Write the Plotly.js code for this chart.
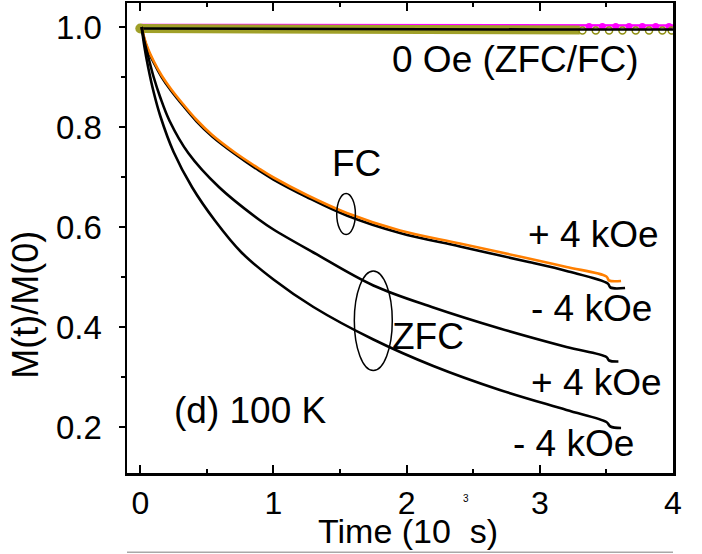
<!DOCTYPE html>
<html>
<head>
<meta charset="utf-8">
<script src="https://cdn.plot.ly/plotly-3.0.1.min.js"></script>
<style>html,body{margin:0;padding:0;background:#fff;}#chart{width:702px;height:554px;}</style>
</head>
<body>
<div id="chart"></div>
<script>
// ---- data ----
// FC, +4 kOe (orange)
const fcPlusX = [0.01, 0.03, 0.06, 0.1, 0.16, 0.23, 0.32, 0.42, 0.54, 0.71, 0.89, 1.0, 1.25, 1.55, 1.95, 2.4, 2.9, 3.2, 3.5, 3.52, 3.61];
const fcPlusY = [1.0, 0.978, 0.955, 0.932, 0.903, 0.876, 0.846, 0.815, 0.784, 0.749, 0.717, 0.699, 0.664, 0.628, 0.593, 0.567, 0.538, 0.520, 0.501, 0.493, 0.492];
// FC, -4 kOe (black)
const fcMinusX = [0.01, 0.03, 0.06, 0.1, 0.16, 0.23, 0.32, 0.42, 0.54, 0.71, 0.89, 1.0, 1.25, 1.55, 1.95, 2.4, 2.9, 3.2, 3.51, 3.53, 3.64];
const fcMinusY = [1.0, 0.976, 0.952, 0.929, 0.900, 0.873, 0.843, 0.812, 0.781, 0.746, 0.713, 0.695, 0.660, 0.623, 0.588, 0.561, 0.531, 0.512, 0.487, 0.479, 0.478];
// ZFC, +4 kOe (black)
const zfcPlusX = [0.01, 0.03, 0.06, 0.1, 0.15, 0.22, 0.36, 0.59, 0.89, 1.0, 1.3, 1.75, 2.2, 2.7, 3.2, 3.5, 3.52, 3.59];
const zfcPlusY = [1.0, 0.972, 0.94, 0.90, 0.859, 0.812, 0.748, 0.68, 0.615, 0.595, 0.549, 0.483, 0.439, 0.397, 0.36, 0.34, 0.333, 0.331];
// ZFC, -4 kOe (black)
const zfcMinusX = [0.01, 0.03, 0.06, 0.1, 0.15, 0.25, 0.39, 0.56, 0.76, 1.0, 1.3, 1.75, 2.2, 2.7, 3.2, 3.5, 3.53, 3.61];
const zfcMinusY = [1.0, 0.962, 0.918, 0.870, 0.822, 0.750, 0.679, 0.613, 0.549, 0.495, 0.44, 0.375, 0.322, 0.274, 0.234, 0.21, 0.201, 0.198];
// 0 Oe curves
const zeroMagX = [0.01, 1.0, 2.0, 3.0, 4.0];
const zeroMagY = [1.004, 1.004, 1.004, 1.003, 1.003];
const zeroMagPtsX = [3.37, 3.47, 3.57, 3.67, 3.77, 3.87, 3.97];
const zeroMagPtsY = [1.001, 1.001, 1.001, 1.001, 1.001, 1.001, 1.001];
const zeroOliveX = [0.0, 1.0, 2.0, 3.0, 3.3];
const zeroOliveY = [0.997, 0.996, 0.995, 0.994, 0.994];
const zeroOlivePtsX = [3.32, 3.42, 3.52, 3.62, 3.72, 3.82, 3.92, 3.99];
const zeroOlivePtsY = [0.993, 0.993, 0.993, 0.993, 0.993, 0.993, 0.993, 0.993];
const zeroBlackX = [0.01, 1.0, 2.0, 3.0, 4.0];
const zeroBlackY = [0.997, 0.996, 0.995, 0.995, 0.995];
// axis ticks
const xTicks = [0, 1, 2, 3, 4];
const yTicks = [0.2, 0.4, 0.6, 0.8, 1.0];
const yTickText = ['0.2', '0.4', '0.6', '0.8', '1.0'];

const FONT = 'Liberation Sans, Arial, sans-serif';
const lw = 2.6;
const sp = {shape: 'spline', smoothing: 1};

const traces = [
  {x: zeroMagX, y: zeroMagY, mode: 'lines', line: {color: '#ff00ff', width: 2.5}},
  {x: zeroMagPtsX, y: zeroMagPtsY, mode: 'markers', marker: {color: '#ff00ff', size: 7, symbol: 'circle'}},
  {x: zeroOliveX, y: zeroOliveY, mode: 'lines', line: {color: '#a0a028', width: 9}},
  {x: [zeroOliveX[0]], y: [zeroOliveY[0]], mode: 'markers', marker: {color: '#a0a028', size: 10}},
  {x: zeroOlivePtsX, y: zeroOlivePtsY, mode: 'markers', marker: {color: 'rgba(0,0,0,0)', size: 7, symbol: 'circle', line: {color: '#8f8f10', width: 1.5}}},
  {x: zeroBlackX, y: zeroBlackY, mode: 'lines', line: {color: '#000', width: lw}},
  {x: fcMinusX, y: fcMinusY, mode: 'lines', line: Object.assign({color: '#000', width: lw}, sp)},
  {x: fcPlusX, y: fcPlusY, mode: 'lines', line: Object.assign({color: '#ff7f00', width: lw}, sp)},
  {x: zfcPlusX, y: zfcPlusY, mode: 'lines', line: Object.assign({color: '#000', width: lw}, sp)},
  {x: zfcMinusX, y: zfcMinusY, mode: 'lines', line: Object.assign({color: '#000', width: lw}, sp)}
];

const lab = (text, x, y, size) => ({text, x, y, xref: 'x', yref: 'y', showarrow: false,
  xanchor: 'center', yanchor: 'middle', font: {family: FONT, size: size || 37, color: '#000'}});

const layout = {
  width: 702, height: 554,
  margin: {l: 127, r: 29, t: 3, b: 81},
  paper_bgcolor: '#fff', plot_bgcolor: '#fff',
  showlegend: false,
  font: {family: FONT, color: '#000'},
  xaxis: {
    range: [-0.1, 4.0], tickvals: xTicks, ticktext: xTicks.map(String),
    ticks: 'inside', ticklen: 8, tickwidth: 2, tickcolor: '#000',
    minor: {dtick: 0.5, tick0: 0, ticks: 'inside', ticklen: 4, tickwidth: 2, tickcolor: '#000'},
    showline: true, linecolor: '#000', linewidth: 2.5, mirror: 'ticks',
    showgrid: false, zeroline: false,
    tickfont: {family: FONT, size: 32, color: '#000'}, ticklabelstandoff: 0
  },
  yaxis: {
    range: [0.108, 1.048], tickvals: yTicks, ticktext: yTickText,
    ticks: 'outside', ticklen: 6, tickwidth: 2, tickcolor: '#000',
    minor: {dtick: 0.1, tick0: 0, ticks: 'outside', ticklen: 4, tickwidth: 2, tickcolor: '#000'},
    showline: true, linecolor: '#000', linewidth: 2.5, mirror: true,
    showgrid: false, zeroline: false,
    tickfont: {family: FONT, size: 33, color: '#000'}, ticklabelstandoff: 10
  },
  shapes: [
    {type: 'circle', xref: 'x', yref: 'y', x0: 1.475, x1: 1.615, y0: 0.585, y1: 0.667, line: {color: '#000', width: 1.5}},
    {type: 'circle', xref: 'x', yref: 'y', x0: 1.607, x1: 1.892, y0: 0.313, y1: 0.512, line: {color: '#000', width: 1.5}},
    {type: 'line', xref: 'paper', yref: 'paper', x0: 0, x1: 1, y0: -0.1687, y1: -0.1687, line: {color: '#a8a8a8', width: 1.5}}
  ],
  annotations: [
    lab('0 Oe (ZFC/FC)', 2.82, 0.935),
    lab('FC', 1.624, 0.727),
    lab('ZFC', 2.157, 0.382),
    lab('+ 4 kOe', 3.40, 0.585),
    lab('- 4 kOe', 3.388, 0.438),
    lab('+ 4 kOe', 3.425, 0.29),
    lab('- 4 kOe', 3.25, 0.167),
    lab('(d) 100 K', 0.825, 0.233),
    {text: 'M(t)/M(0)', xref: 'paper', yref: 'paper', x: -0.186, y: 0.359, textangle: -90,
     showarrow: false, xanchor: 'center', yanchor: 'middle', font: {family: FONT, size: 36, color: '#000'}},
    {text: 'Time (10\u00a0\u00a0s)', xref: 'paper', yref: 'paper', x: 0.5146, y: -0.168,
     showarrow: false, xanchor: 'center', yanchor: 'bottom', font: {family: FONT, size: 34, color: '#000'}},
    {text: '3', xref: 'paper', yref: 'paper', x: 0.6206, y: -0.055,
     showarrow: false, xanchor: 'center', yanchor: 'middle', font: {family: FONT, size: 10, color: '#000'}}
  ]
};

Plotly.newPlot('chart', traces, layout, {staticPlot: true, displayModeBar: false});
</script>
</body>
</html>
